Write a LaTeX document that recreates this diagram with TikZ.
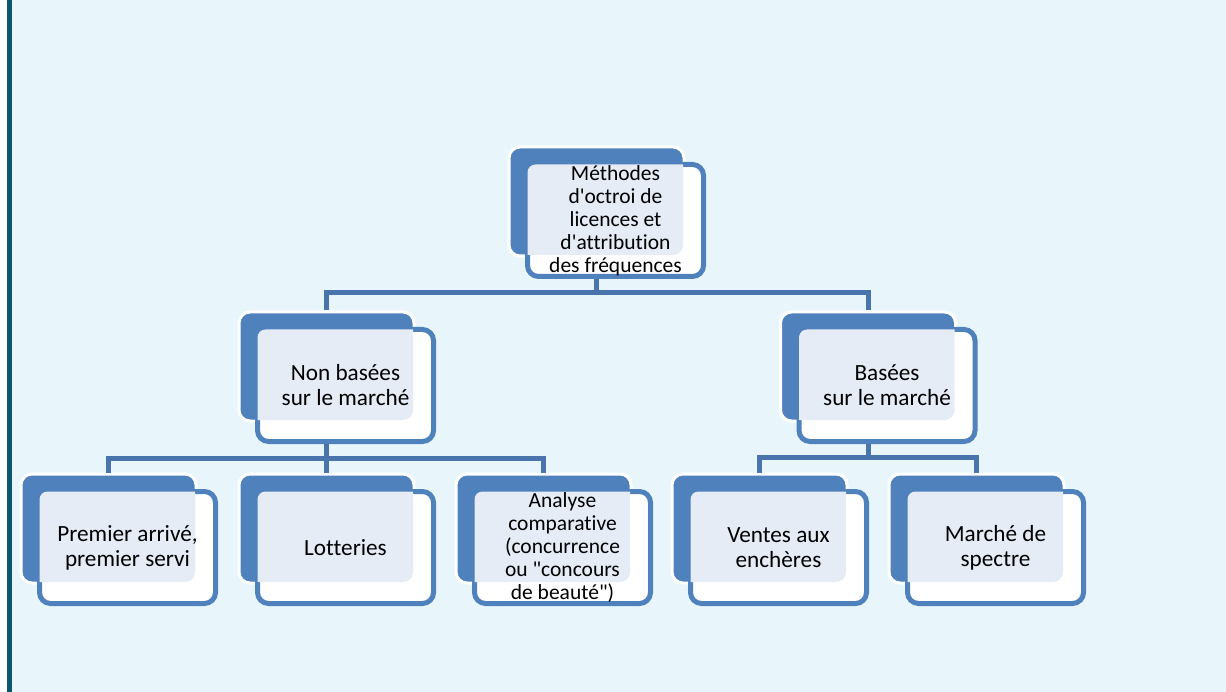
\documentclass[tikz,border=0pt]{standalone}
\usepackage{fontspec}
\newfontfamily\carlito{Carlito}[Ligatures={TeXOff,NoCommon}]
\definecolor{bgblue}{HTML}{E8F6FC}
\definecolor{edgeteal}{HTML}{0C5573}
\definecolor{boxblue}{HTML}{4F81BD}
\definecolor{lineblue}{HTML}{4A74AC}
\definecolor{texblue}{HTML}{E5ECF6}
\tikzset{
  backbox/.style={rectangle,inner sep=0pt,minimum width=175pt,minimum height=109pt,
    rounded corners=11pt,fill=boxblue,draw=white,line width=3pt},
  frontbox/.style={rectangle,inner sep=0pt,minimum width=176pt,minimum height=112pt,
    rounded corners=11pt,fill=white,draw=boxblue,line width=5pt},
  texfill/.style={fill=texblue},
  lbl/.style={align=center,inner sep=0pt,text=black},
  big/.style={font=\carlito\fontsize{23.2}{25}\selectfont},
  small/.style={font=\carlito\fontsize{21.5}{22.9}\selectfont},
  conn/.style={draw=lineblue,line width=5pt}
}
\newcommand\mkunit[5]{%
  \node[backbox] (#1-b) at (#2+86.5,#3+53.5) {};
  \node[frontbox] (#1) at (#2+105.5,#3+72.5) {};
  \begin{scope}
    \clip[rounded corners=10pt] (#2,#3) rectangle (#2+173,#3+107);
    \fill[texfill,rounded corners=8pt] (#2+17.5,#3+16.5) rectangle (#2+193.5,#3+128.5);
  \end{scope}
  \node[lbl,#4] (#1-t) at (#1) {#5};
}
\begin{document}
\begin{tikzpicture}[x=1pt,y=-1pt]
\useasboundingbox (0,0) rectangle (1226,692);
\fill[white] (0,0) rectangle (1226,692);
\fill[edgeteal] (7,0) rectangle (12,692);
\fill[bgblue] (12,0) rectangle (1226,692);

\mkunit{T}{510}{148}{small}{Méthodes\\d'octroi de\\licences et\\d'attribution\\des fréquences}
\mkunit{NB}{240}{313}{big}{Non basées\\sur le marché}
\mkunit{B}{781.5}{313}{big}{Basées\\sur le marché}
\mkunit{P1}{22}{475}{big}{Premier arrivé,\\premier servi}
\mkunit{P2}{240}{475}{big}{Lotteries}
\mkunit{P3}{457}{475}{small}{Analyse\\comparative\\(concurrence\\ou "concours\\de beauté")}
\mkunit{V}{673}{475}{big}{Ventes aux\\enchères}
\mkunit{M}{890}{475}{big}{Marché de\\spectre}

\coordinate (bus1) at (0,293);
\coordinate (bus2) at (0,458);
\coordinate (bus3) at (0,457);

\draw[conn] (T-b |- T.south) -- (T-b |- bus1) -| (NB-b.north);
\draw[conn] (T-b |- T.south) -- (T-b |- bus1) -| (B-b.north);
\draw[conn] (NB-b |- NB.south) -- (NB-b |- bus2) -| (P1-b.north);
\draw[conn] (NB-b |- NB.south) -- (P2-b.north);
\draw[conn] (NB-b |- NB.south) -- (NB-b |- bus2) -| (P3-b.north);
\draw[conn] (B-b |- B.south) -- (B-b |- bus3) -| (V-b.north);
\draw[conn] (B-b |- B.south) -- (B-b |- bus3) -| (M-b.north);
\end{tikzpicture}
\end{document}
